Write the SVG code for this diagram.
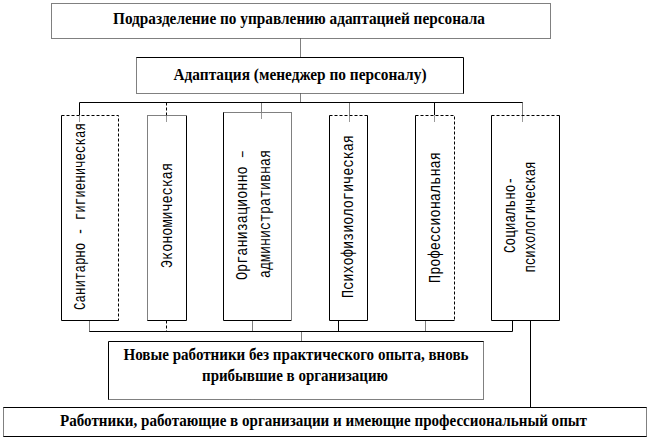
<svg xmlns="http://www.w3.org/2000/svg" width="649" height="440" viewBox="0 0 649 440">
<style>
.bg{fill:#fff}
.s{stroke:#000;stroke-width:1;fill:none}
.d{stroke:#000;stroke-width:1;fill:none;stroke-dasharray:1 1}
.m{stroke:#000;stroke-width:1;fill:none;stroke-dasharray:3 2}
.g{stroke:#999;stroke-width:1;fill:none}
</style>
<rect x="0" y="0" width="649" height="440" fill="#fff"/>
<g id="connectors">
<line class="d" x1="300.5" y1="38.5" x2="300.5" y2="57.5"/>
<line class="d" x1="300.5" y1="93.5" x2="300.5" y2="102.5"/>
<line class="s" x1="79.5" y1="102.5" x2="522.5" y2="102.5"/>
<line class="s" x1="79.5" y1="102.5" x2="79.5" y2="115.5"/>
<line class="m" x1="166.5" y1="102.5" x2="166.5" y2="115.5"/>
<line class="d" x1="261.5" y1="102.5" x2="261.5" y2="112.5"/>
<line class="d" x1="349.5" y1="102.5" x2="349.5" y2="115.5"/>
<line class="s" x1="434.5" y1="102.5" x2="434.5" y2="115.5"/>
<line class="d" x1="522.5" y1="102.5" x2="522.5" y2="115.5"/>
<line class="s" x1="89.5" y1="331.5" x2="512.5" y2="331.5"/>
<line class="d" x1="89.5" y1="320.5" x2="89.5" y2="331.5"/>
<line class="m" x1="166.5" y1="320.5" x2="166.5" y2="331.5"/>
<line class="d" x1="252.5" y1="320.5" x2="252.5" y2="331.5"/>
<line class="s" x1="338.5" y1="320.5" x2="338.5" y2="331.5"/>
<line class="d" x1="425.5" y1="320.5" x2="425.5" y2="331.5"/>
<line class="s" x1="512.5" y1="320.5" x2="512.5" y2="331.5"/>
<line class="d" x1="301.5" y1="331.5" x2="301.5" y2="341.5"/>
<line class="s" x1="530.5" y1="320.5" x2="530.5" y2="407.5"/>
</g>
<g font-family="'Liberation Serif', 'Times New Roman', serif" font-weight="bold" font-size="16" text-anchor="middle" fill="#000">
<g id="n-top">
<rect class="bg" x="51.5" y="3.5" width="499" height="35"/>
<rect class="d" x="51.5" y="3.5" width="499" height="35"/>
<text x="299" y="24" textLength="372" lengthAdjust="spacingAndGlyphs">Подразделение по управлению адаптацией персонала</text>
</g>
<g id="n-adapt">
<rect class="bg" x="136.5" y="57.5" width="327" height="36"/>
<path class="s" d="M136.5 57.5H463.5V93.5"/>
<path class="d" d="M136.5 57.5V93.5H463.5"/>
<text x="300" y="80" textLength="253" lengthAdjust="spacingAndGlyphs">Адаптация (менеджер по персоналу)</text>
</g>
<g id="n-new">
<rect class="bg" x="108.5" y="341.5" width="375" height="58"/>
<path class="s" d="M108.5 399.5V341.5H483.5"/>
<path class="d" d="M483.5 341.5V399.5H108.5"/>
<text x="296" y="360" textLength="345" lengthAdjust="spacingAndGlyphs">Новые работники без практического  опыта, вновь</text>
<text x="295" y="381" textLength="186" lengthAdjust="spacingAndGlyphs">прибывшие в организацию</text>
</g>
<g id="n-exp">
<rect class="bg" x="3.5" y="407.5" width="643" height="29"/>
<path class="s" d="M3.5 407.5H646.5M3.5 436.5H646.5"/>
<path class="d" d="M3.5 407.5V436.5M646.5 407.5V436.5"/>
<text x="323.5" y="426" textLength="527" lengthAdjust="spacingAndGlyphs">Работники, работающие в организации и имеющие профессиональный опыт</text>
</g>
</g>
<g font-family="'Liberation Mono', 'Courier New', monospace" font-size="16" text-anchor="middle" fill="#000">
<g id="n-san">
<rect class="bg" x="61.5" y="115.5" width="57" height="205"/>
<path class="s" d="M61.5 115.5V320.5H118.5"/>
<path class="m" d="M61.5 115.5H118.5V320.5"/>
<line class="g" x1="79.5" y1="116" x2="79.5" y2="122"/>
<text transform="translate(85,216.5) rotate(-90)" textLength="187" lengthAdjust="spacingAndGlyphs">Санитарно - гигиеническая</text>
</g>
<g id="n-econ">
<rect class="bg" x="147.5" y="115.5" width="39" height="205"/>
<path class="s" d="M186.5 115.5V320.5H147.5"/>
<path class="d" d="M147.5 320.5V115.5H186.5"/>
<line class="g" x1="166.5" y1="116" x2="166.5" y2="122"/>
<text font-size="17" transform="translate(172,215.5) rotate(-90)" textLength="105" lengthAdjust="spacingAndGlyphs">Экономическая</text>
</g>
<g id="n-org">
<rect class="bg" x="223.5" y="112.5" width="68" height="208"/>
<path class="s" d="M223.5 112.5V320.5H291.5"/>
<path class="d" d="M223.5 112.5H291.5V320.5"/>
<line class="g" x1="261.5" y1="113" x2="261.5" y2="119"/>
<text transform="translate(246.5,215) rotate(-90)" textLength="130" lengthAdjust="spacingAndGlyphs">Организационно –</text>
<text transform="translate(270,214) rotate(-90)" textLength="128" lengthAdjust="spacingAndGlyphs">административная</text>
</g>
<g id="n-psy">
<rect class="bg" x="329.5" y="115.5" width="38" height="205"/>
<path class="s" d="M329.5 115.5V320.5H367.5V115.5"/>
<path class="m" d="M329.5 115.5H367.5"/>
<line class="g" x1="349.5" y1="116" x2="349.5" y2="122"/>
<text transform="translate(353,216.5) rotate(-90)" textLength="163" lengthAdjust="spacingAndGlyphs">Психофизиологическая</text>
</g>
<g id="n-prof">
<rect class="bg" x="415.5" y="115.5" width="39" height="205"/>
<path class="s" d="M415.5 115.5V320.5H454.5"/>
<path class="m" d="M415.5 115.5H454.5V320.5"/>
<line class="g" x1="434.5" y1="116" x2="434.5" y2="122"/>
<text transform="translate(440,217.5) rotate(-90)" textLength="131" lengthAdjust="spacingAndGlyphs">Профессиональная</text>
</g>
<g id="n-soc">
<rect class="bg" x="491.5" y="115.5" width="68" height="205"/>
<path class="s" d="M491.5 115.5V320.5H559.5V115.5"/>
<path class="m" d="M491.5 115.5H559.5"/>
<line class="g" x1="522.5" y1="116" x2="522.5" y2="122"/>
<text transform="translate(514.5,215) rotate(-90)" textLength="76" lengthAdjust="spacingAndGlyphs">Социально-</text>
<text transform="translate(534.5,217) rotate(-90)" textLength="111" lengthAdjust="spacingAndGlyphs">психологическая</text>
</g>
</g>
</svg>
